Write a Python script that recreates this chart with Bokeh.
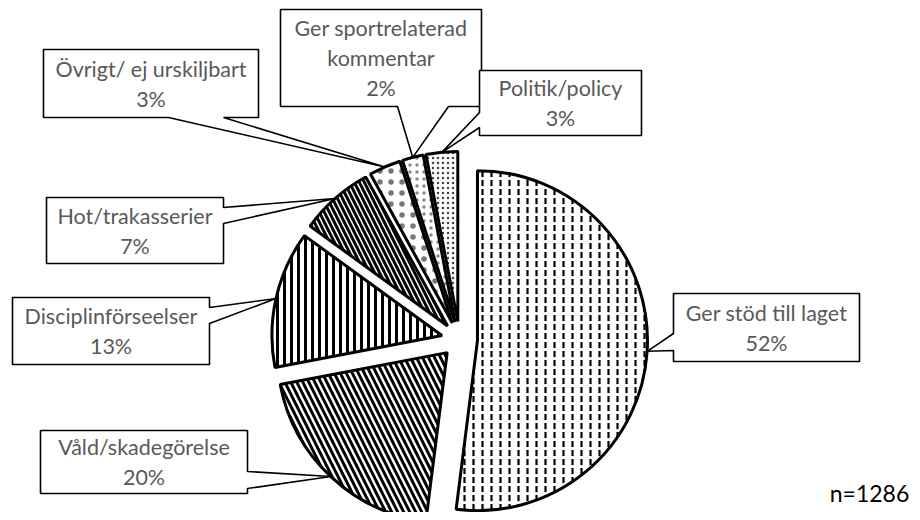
import math
from bokeh.plotting import figure
from bokeh.models import Range1d
from bokeh.core.properties import value
from bokeh.embed import file_html
from bokeh.resources import INLINE

# ---------------- data ----------------
categories = ["Ger stöd till laget", "Våld/skadegörelse", "Disciplinförseelser",
              "Hot/trakasserier", "Övrigt/ ej urskiljbart",
              "Ger sportrelaterad kommentar", "Politik/policy"]
label_lines = [["Ger stöd till laget"], ["Våld/skadegörelse"], ["Disciplinförseelser"],
               ["Hot/trakasserier"], ["Övrigt/ ej urskiljbart"],
               ["Ger sportrelaterad", "kommentar"], ["Politik/policy"]]
percent = [52, 20, 13, 7, 3, 2, 3]
n_label = "n=1286"

# ---------------- layout (screen px, origin top-left) ----------------
W, H = 920, 520
CX, CY = 459, 339        # pie centre
R = 170                  # radius
EXPLODE = 18             # explosion distance

hatches = [("vertical_dash", 9, 2.2, "black"), ("left_diagonal_line", 12, 3, "black"),
           ("vertical_line", 7, 3, "black"), ("left_diagonal_line", 10, 3, "black"),
           ("dot", 11, 0.6, "#777777"), ("dot", 7, 0.6, "#888888"), ("dot", 5, 0.8, "#444444")]

# boxes: (left, top, right, bottom), pointer side, base points
boxes = [((673, 293, 859, 361), "left", (333, 350)),
         ((40, 430, 247, 493), "right", (471, 488)),
         ((12, 297, 209, 364), "right", (307, 323)),
         ((46, 197, 223, 263), "right", (207, 223)),
         ((43, 49, 258, 117), "bottom", (168, 223)),
         ((280, 9, 481, 106), "bottom", (397, 448)),
         ((479, 70, 641, 135), "left", (112, 127))]
LINE_GAP = 30

def sy(y):
    return H - y

p = figure(width=912, height=512, x_range=Range1d(0, 912), y_range=Range1d(8, 520),
           output_backend="svg", toolbar_location=None, min_border=0)
p.axis.visible = False
p.grid.visible = False
p.outline_line_color = None
p.background_fill_color = "white"

total = float(sum(percent))
cum = 0.0
wx, wy, sa, ea, tips = [], [], [], [], []
for v in percent:
    t0 = cum / total * 360.0
    cum += v
    t1 = cum / total * 360.0
    tm = math.radians((t0 + t1) / 2)
    ax = CX + EXPLODE * math.sin(tm)
    ay = CY - EXPLODE * math.cos(tm)
    wx.append(ax)
    wy.append(sy(ay))
    sa.append(math.radians(90 - t1))
    ea.append(math.radians(90 - t0))
    tips.append((ax + R * math.sin(tm), ay - R * math.cos(tm)))

# callouts
xs, ys = [], []
tx, ty, tt = [], [], []
for i, ((l, t, r, b), side, (b1, b2)) in enumerate(boxes):
    tipx, tipy = tips[i]
    if side == "left":
        pts = [(l, t), (r, t), (r, b), (l, b), (l, b2), (tipx, tipy), (l, b1)]
    elif side == "right":
        pts = [(l, t), (r, t), (r, b1), (tipx, tipy), (r, b2), (r, b), (l, b)]
    else:
        pts = [(l, t), (r, t), (r, b), (b2, b), (tipx, tipy), (b1, b), (l, b)]
    xs.append([q[0] for q in pts])
    ys.append([sy(q[1]) for q in pts])
    lines = label_lines[i] + [f"{percent[i]}%"]
    cy = (t + b) / 2
    n = len(lines)
    for k, s in enumerate(lines):
        tx.append((l + r) / 2)
        ty.append(sy(cy + (k - (n - 1) / 2) * LINE_GAP))
        tt.append(s)

p.patches(xs, ys, fill_color="white", line_color="black", line_width=1.6)

for i in range(len(percent)):
    pat, sc, wt, hc = hatches[i]
    p.wedge(x=wx[i], y=wy[i], radius=R, start_angle=sa[i], end_angle=ea[i],
            direction="anticlock", fill_color="white", line_color="black",
            line_width=3, hatch_pattern=pat, hatch_scale=sc, hatch_weight=wt,
            hatch_color=hc)

p.text(x=tx, y=ty, text=tt, text_align="center", text_baseline="middle",
       text_font=value("Lato"), text_font_size="21.5px", text_color="#595959")

p.text(x=[869], y=[sy(492)], text=[n_label], text_align="center", text_baseline="middle",
       text_font=value("Lato"), text_font_size="23px", text_color="black")

open("out.html", "w").write(file_html(p, INLINE))
